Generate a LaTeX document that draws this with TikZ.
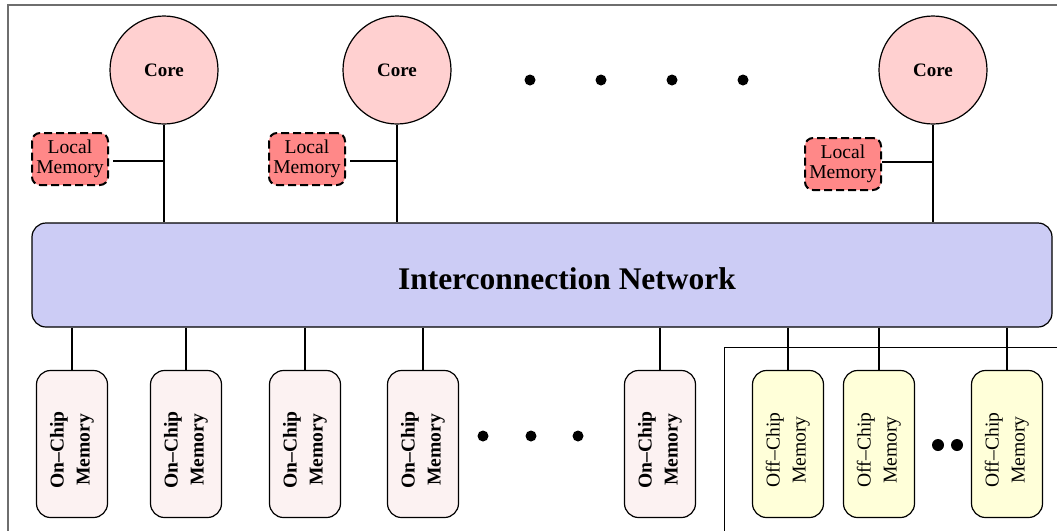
\documentclass[tikz,border=0pt]{standalone}
\usepackage{fontspec}
\setmainfont{Liberation Serif}
\usepackage{graphicx}
\definecolor{corefill}{RGB}{255,208,208}
\definecolor{localfill}{RGB}{255,136,136}
\definecolor{netfill}{RGB}{204,204,245}
\definecolor{onfill}{RGB}{252,242,242}
\definecolor{offfill}{RGB}{255,255,217}
\definecolor{framegray}{RGB}{110,110,110}
\tikzset{
  core/.style={circle, draw, line width=0.6pt, fill=corefill, minimum size=54pt,
    inner sep=0pt, font=\fontsize{9.5}{10}\selectfont\bfseries},
  localmem/.style={rectangle, rounded corners=4pt, draw, dash pattern=on 4pt off 2pt,
    line width=1pt, fill=localfill, minimum width=38pt, minimum height=26pt,
    inner sep=0pt, align=center, font=\fontsize{9.8}{10}\selectfont},
  network/.style={rectangle, rounded corners=7pt, draw, line width=0.6pt,
    fill=netfill, minimum width=510pt, minimum height=52pt},
  onchip/.style={rectangle, rounded corners=7pt, draw, line width=0.6pt,
    fill=onfill, minimum width=35.5pt, minimum height=73.5pt, inner sep=0pt,
    font=\fontsize{9.8}{11.4}\selectfont\bfseries},
  offchip/.style={rectangle, rounded corners=7pt, draw, line width=0.6pt,
    fill=offfill, minimum width=35.5pt, minimum height=73.5pt, inner sep=0pt,
    font=\fontsize{9.8}{11.4}\selectfont},
  link/.style={draw, line width=0.6pt},
  dot/.style={fill=black}
}
% two-line label turned to read bottom to top, sitting a little below centre
\newcommand{\vlabel}[2]{\vbox{\kern6pt\hbox{\rotatebox{90}{\begin{tabular}{@{}c@{}}#1\\[1.6pt]#2\end{tabular}}}}}
\begin{document}
\begin{tikzpicture}[x=0.5pt, y=-0.5pt]
\useasboundingbox (0,0) rectangle (1057,531);

% outer frames
\draw[framegray, line width=0.6pt] (8,531) -- (8,5) -- (1057,5);
\draw[black, line width=0.5pt] (724,531) -- (724,347) -- (1057,347);

% cores
\node[core] (c1) at (164,70) {Core};
\node[core] (c2) at (397,70) {Core};
\node[core] (c3) at (933,70) {Core};

% local memories
\node[localmem] (lm1) at (70,159) {Local\\Memory};
\node[localmem] (lm2) at (307,159) {Local\\Memory};
\node[localmem] (lm3) at (843,164) {Local\\Memory};

% interconnection network
\node[network] (net) at (542,275) {};
\node[font=\fontsize{15.75}{18}\selectfont\bfseries] (netlabel) at (567,279) {Interconnection Network};

% core links
\foreach \c in {c1,c2,c3} {
  \draw[link] (\c.south) -- (\c.south |- net.north);
}
\draw[link, shorten <=2pt] (lm1.east |- 0,161) coordinate (lm1j) -- (lm1j -| c1.south);
\draw[link, shorten <=2pt] (lm2.east |- 0,161) coordinate (lm2j) -- (lm2j -| c2.south);
\draw[link] (lm3.east |- 0,162) coordinate (lm3j) -- (lm3j -| c3.south);

% on-chip memories
\node[onchip] (m1) at (72,444) {\vlabel{On--Chip}{Memory}};
\node[onchip] (m2) at (186,444) {\vlabel{On--Chip}{Memory}};
\node[onchip] (m3) at (305,444) {\vlabel{On--Chip}{Memory}};
\node[onchip] (m4) at (423,444) {\vlabel{On--Chip}{Memory}};
\node[onchip] (m5) at (660,444) {\vlabel{On--Chip}{Memory}};
\foreach \m in {m1,m2,m3,m4,m5} {
  \draw[link] (\m.north |- net.south) -- (\m.north);
}

% off-chip memories
\node[offchip] (o1) at (788,444) {\vlabel{Off--Chip}{Memory}};
\node[offchip] (o2) at (879,444) {\vlabel{Off--Chip}{Memory}};
\node[offchip] (o3) at (1007,444) {\vlabel{Off--Chip}{Memory}};
\foreach \o in {o1,o2,o3} {
  \draw[link] (\o.north |- net.south) -- (\o.north);
}

% ellipsis dots
\foreach \x in {530,601,672,743} \fill[dot] (\x,80) circle (5.5);
\foreach \x in {483,531,578} \fill[dot] (\x,436) circle (5.5);
\foreach \x in {938,957} \fill[dot] (\x,445) circle (6);
\end{tikzpicture}
\end{document}
